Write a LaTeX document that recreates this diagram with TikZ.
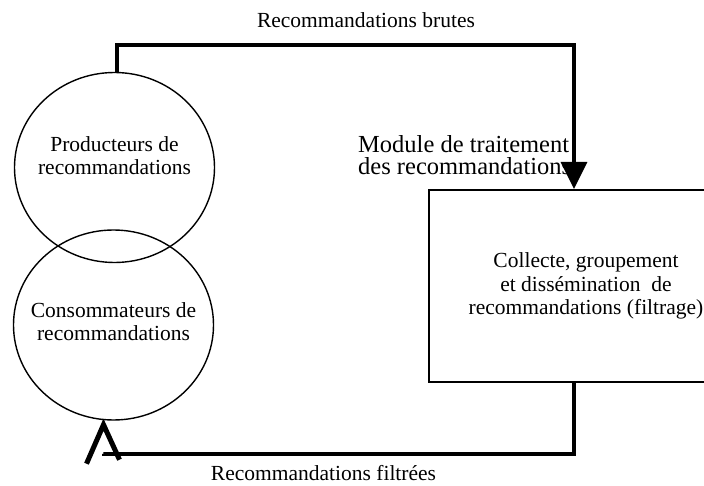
\documentclass[tikz,border=0pt]{standalone}
\usepackage{fontspec}
\setmainfont{Liberation Serif}
\usepackage{tikz}
\usetikzlibrary{arrows.meta}
\usetikzlibrary{positioning}
\usetikzlibrary{shapes}
\usetikzlibrary{calc}

\begin{document}
\begin{tikzpicture}[x=1pt,y=-1pt,font=\fontsize{21.5}{23.5}\selectfont,
                    flow/.style={line width=3.5pt},
                    chevron/.style={line width=5pt, line join=miter, line cap=butt}]
 \tikzstyle{acteur}=[draw, shape=ellipse, line width=1.4pt, minimum width=200pt, minimum height=190pt, inner sep=0pt]
 \tikzstyle{module}=[draw, shape=rectangle, line width=2pt, minimum width=314pt, minimum height=192pt, align=center]
 \tikzstyle{texte}=[align=center, inner sep=0pt]
 \useasboundingbox (0,0) rectangle (704,486);
  \node[acteur] (P) at (114.5,167.5) {};
  \node[acteur] (C) at (113.5,325) {};
  \node[texte] (Ptxt) at ([yshift=12pt]P.center) {Producteurs de \\ recommandations};
  \node[texte] (Ctxt) at ([yshift=3.5pt]C.center) {Consommateurs de \\ recommandations};
  \node[module] (M) at (586,286) {\rule{0pt}{8pt}Collecte, groupement \\ et dissémination~ de \\ recommandations (filtrage)};
  \node[texte, align=left, anchor=west, font=\fontsize{24.5}{22.5}\selectfont] (Mtitre) at (358,155) {Module de traitement \\ des recommandations};
  \node[texte, anchor=base] (brutes) at (366,28) {Recommandations brutes};
  \node[texte, anchor=base] (filtrees) at (323.5,480) {Recommandations filtrées};
  \coordinate (Cin) at ([xshift=-10pt,yshift=-4pt]C.south);
\draw[flow, -{Triangle[length=27pt,width=26pt]}] ([xshift=2.5pt]P.north) -- ++(0,-27) -| ([xshift=146pt]M.north west);
\draw[flow] ([xshift=146pt]M.south west) -- ++(0,71) -| ([yshift=-29pt]Cin);
\draw[chevron] ([xshift=-17pt,yshift=-39pt]Cin) -- (Cin) -- ([xshift=16pt,yshift=-35pt]Cin);
\end{tikzpicture}
\end{document}
